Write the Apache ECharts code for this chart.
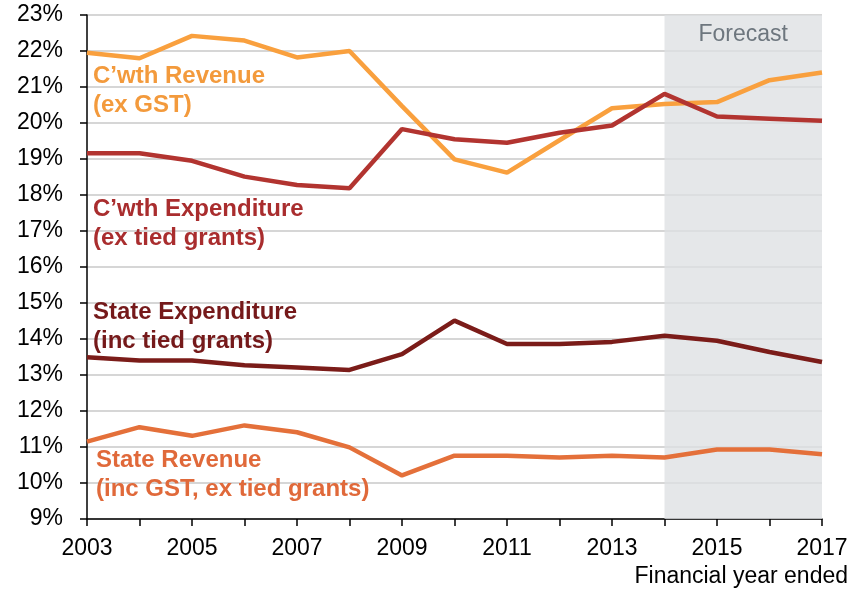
<!DOCTYPE html>
<html>
<head>
<meta charset="utf-8">
<script src="https://cdn.jsdelivr.net/npm/echarts@6/dist/echarts.min.js"></script>
<style>
  html, body { margin: 0; padding: 0; background: #fff; }
  #chart { width: 854px; height: 589px; }
</style>
</head>
<body>
<div id="chart"></div>
<script>
// 年份（财政年度）
const years = ['2003', '2004', '2005', '2006', '2007', '2008', '2009', '2010',
               '2011', '2012', '2013', '2014', '2015', '2016', '2017'];

// 各序列数值（%）
const cwthRevenue     = [21.95, 21.80, 22.42, 22.29, 21.82, 22.00, 20.47, 18.99, 18.62, 19.52, 20.41, 20.53, 20.58, 21.19, 21.40];
const cwthExpenditure = [19.16, 19.16, 18.95, 18.51, 18.28, 18.19, 19.83, 19.55, 19.45, 19.73, 19.93, 20.81, 20.18, 20.12, 20.06];
const stateExpenditure = [13.49, 13.40, 13.40, 13.27, 13.21, 13.14, 13.58, 14.51, 13.86, 13.86, 13.92, 14.09, 13.95, 13.64, 13.36];
const stateRevenue    = [11.15, 11.55, 11.31, 11.60, 11.41, 10.99, 10.21, 10.76, 10.76, 10.71, 10.76, 10.71, 10.93, 10.93, 10.80];

const forecastStart = '2014';
const forecastEnd = '2017';

const FONT = '"Liberation Sans", Arial, sans-serif';

const chart = echarts.init(document.getElementById('chart'));

function lineSeries(name, data, color) {
    return {
        name: name,
        type: 'line',
        data: data,
        symbol: 'none',
        lineStyle: { width: 4.5, color: color },
        itemStyle: { color: color },
        z: 3
    };
}

const series = [
    lineSeries('C’wth Revenue', cwthRevenue, '#F9A03E'),
    lineSeries('C’wth Expenditure', cwthExpenditure, '#B23430'),
    lineSeries('State Expenditure', stateExpenditure, '#7B1C19'),
    lineSeries('State Revenue', stateRevenue, '#E4703A')
];

// 预测区间阴影
series.push({
    type: 'line',
    data: [],
    silent: true,
    z: 1,
    markArea: {
        silent: true,
        itemStyle: { color: 'rgba(222,224,227,0.78)' },
        label: {
            show: true,
            position: 'insideTop',
            distance: 8,
            formatter: 'Forecast',
            color: '#6d767e',
            fontSize: 23,
            fontFamily: FONT
        },
        data: [[{ xAxis: forecastStart }, { xAxis: forecastEnd }]]
    }
});

function seriesLabel(x, y, text, color) {
    return {
        type: 'text',
        left: x,
        top: y,
        z: 10,
        style: {
            text: text,
            fill: color,
            font: 'bold 24px ' + FONT,
            lineHeight: 29
        }
    };
}

const option = {
    animation: false,
    backgroundColor: '#fff',
    grid: { left: 87, right: 32, top: 15, bottom: 70 },
    xAxis: {
        type: 'category',
        data: years,
        boundaryGap: false,
        axisLine: { lineStyle: { color: '#000', width: 1.5 } },
        axisTick: { show: true, interval: 0, length: 7, lineStyle: { color: '#000', width: 1.5 } },
        axisLabel: { interval: 1, color: '#000', fontSize: 23, fontFamily: FONT, margin: 18 },
        splitLine: { show: false }
    },
    yAxis: {
        type: 'value',
        min: 9,
        max: 23,
        interval: 1,
        axisLine: { show: true, lineStyle: { color: '#000', width: 1.5 } },
        axisTick: { show: true, length: 7, lineStyle: { color: '#000', width: 1.5 } },
        axisLabel: { formatter: '{value}%', color: '#000', fontSize: 23, fontFamily: FONT, margin: 24 },
        splitLine: { show: true, lineStyle: { color: '#c8c8c8', width: 1.5 } }
    },
    graphic: [
        seriesLabel(93, 62, 'C’wth Revenue\n(ex GST)', '#F39A3C'),
        seriesLabel(93, 195, 'C’wth Expenditure\n(ex tied grants)', '#A92D2E'),
        seriesLabel(93, 298, 'State Expenditure\n(inc tied grants)', '#75191A'),
        seriesLabel(96, 446, 'State Revenue\n(inc GST, ex tied grants)', '#E0693A'),
        {
            type: 'text',
            right: 6,
            top: 565,
            style: {
                text: 'Financial year ended',
                fill: '#000',
                font: '23px ' + FONT
            }
        }
    ],
    series: series
};

chart.setOption(option);

window.addEventListener('resize', function() {
    chart.resize();
});
</script>
</body>
</html>
